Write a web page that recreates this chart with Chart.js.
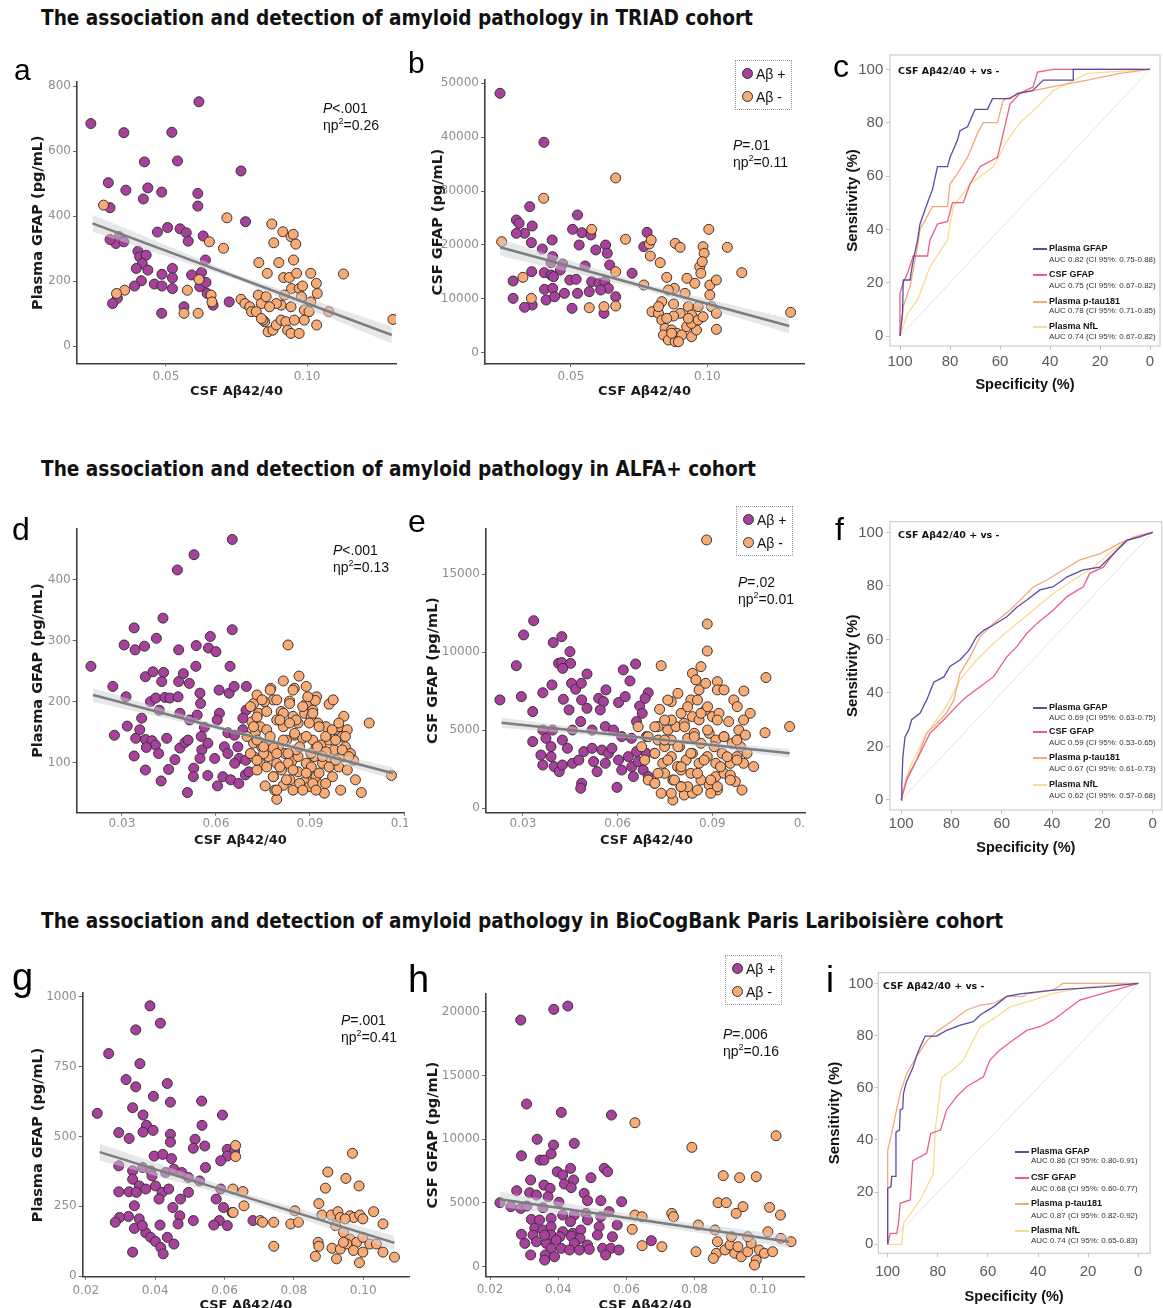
<!DOCTYPE html>
<html>
<head>
<meta charset="utf-8">
<script src="https://cdn.jsdelivr.net/npm/chart.js@4.4.1/dist/chart.umd.min.js"></script>
<style>
body { margin: 0; background: #fff; }
#page { position: relative; width: 1163px; height: 1308px; overflow: hidden; background: #fff; }
.abs { position: absolute; }
.title { font-family: 'DejaVu Sans Condensed', 'DejaVu Sans', sans-serif; font-stretch: condensed; font-weight: bold; font-size: 20.6px; line-height: 1; color: #111; white-space: nowrap; }
.letter { font-family: 'Liberation Sans', Arial, sans-serif; line-height: 1; color: #000; }
.stat { font-family: 'Liberation Sans', Arial, sans-serif; font-size: 14px; line-height: 17px; color: #111; white-space: nowrap; }
.stat sup { font-size: 9px; line-height: 0; vertical-align: 6px; }
.lgbox { border: 1px dotted #9a9a9a; box-sizing: border-box; }
.lgrow { position: absolute; font-family: 'Liberation Sans', Arial, sans-serif; font-size: 14px; line-height: 14px; color: #111; white-space: nowrap; }
.dot { position: absolute; width: 9px; height: 9px; border-radius: 50%; border: 1px solid #333; }
.rochead { font-family: 'DejaVu Sans', sans-serif; font-weight: bold; font-size: 9.5px; line-height: 1; color: #111; white-space: nowrap; }
.roclab { font-family: 'Liberation Sans', Arial, sans-serif; font-weight: bold; font-size: 9px; line-height: 1; color: #111; white-space: nowrap; }
.rocauc { font-family: 'Liberation Sans', Arial, sans-serif; font-size: 8px; line-height: 1; color: #333; white-space: nowrap; }
.wrap { position: absolute; overflow: hidden; }
</style>
</head>
<body>
<div id="page"></div>
<script>
// ---------- données ----------
const rowTitles = [
  'The association and detection of amyloid pathology in TRIAD cohort',
  'The association and detection of amyloid pathology in ALFA+ cohort',
  'The association and detection of amyloid pathology in BioCogBank Paris Lariboisière cohort'
];
const groupLabels = ['Aβ +', 'Aβ -'];
const rocLabels = ['Plasma GFAP', 'CSF GFAP', 'Plasma p-tau181', 'Plasma NfL'];
const rocHeader = 'CSF Aβ42/40 + vs -';
const xTitle = 'CSF Aβ42/40';

const triadAuc = ['AUC 0.82 (CI 95%: 0.75-0.88)', 'AUC 0.75 (CI 95%: 0.67-0.82)', 'AUC 0.78 (CI 95%: 0.71-0.85)', 'AUC 0.74 (CI 95%: 0.67-0.82)'];
const alfaAuc = ['AUC 0.69 (CI 95%: 0.63-0.75)', 'AUC 0.59 (CI 95%: 0.53-0.65)', 'AUC 0.67 (CI 95%: 0.61-0.73)', 'AUC 0.62 (CI 95%: 0.57-0.68)'];
const bioAuc = ['AUC 0.86 (CI 95%: 0.80-0.91)', 'AUC 0.68 (CI 95%: 0.60-0.77)', 'AUC 0.87 (CI 95%: 0.82-0.92)', 'AUC 0.74 (CI 95%: 0.65-0.83)'];

const triadPlasmaStat = ['<i>P</i>&lt;.001', 'ηp<sup>2</sup>=0.26'];
const triadCsfStat = ['<i>P</i>=.01', 'ηp<sup>2</sup>=0.11'];
const alfaPlasmaStat = ['<i>P</i>&lt;.001', 'ηp<sup>2</sup>=0.13'];
const alfaCsfStat = ['<i>P</i>=.02', 'ηp<sup>2</sup>=0.01'];
const bioPlasmaStat = ['<i>P</i>=.001', 'ηp<sup>2</sup>=0.41'];
const bioCsfStat = ['<i>P</i>=.006', 'ηp<sup>2</sup>=0.16'];

// TRIAD - plasma GFAP
const triadPlasmaPos = [[0.0234,685],[0.0351,657],[0.0617,752],[0.0521,658],[0.0541,570],[0.0424,567],[0.0296,503],[0.0358,480],[0.0436,487],[0.0420,453],[0.0485,474],[0.0613,470],[0.0613,431],[0.0766,539],[0.0302,426],[0.0782,383],[0.0470,351],[0.0506,365],[0.0550,361],[0.0572,349],[0.0579,323],[0.0632,339],[0.0640,265],[0.0401,292],[0.0407,275],[0.0430,280],[0.0416,254],[0.0436,234],[0.0395,239],[0.0413,201],[0.0389,185],[0.0459,191],[0.0486,221],[0.0523,239],[0.0523,210],[0.0486,185],[0.0523,177],[0.0591,219],[0.0626,227],[0.0620,183],[0.0642,196],[0.0646,162],[0.0564,121],[0.0667,126],[0.0724,136],[0.0485,101],[0.0328,147],[0.0311,131],[0.0334,337],[0.0323,316],[0.0351,321],[0.0302,328]];
const triadPlasmaNeg = [[0.0279,434],[0.0354,172],[0.0325,162],[0.0564,101],[0.0614,101],[0.0576,172],[0.0654,321],[0.0704,301],[0.0716,395],[0.0660,157],[0.0663,136],[0.0617,205],[0.0766,144],[0.0780,131],[0.0797,121],[0.0803,106],[0.0827,157],[0.0829,257],[0.0838,131],[0.0855,152],[0.0859,224],[0.0875,376],[0.0882,318],[0.0900,257],[0.0908,126],[0.0914,352],[0.0917,211],[0.0937,211],[0.0943,337],[0.0951,344],[0.0960,314],[0.0952,265],[0.0963,224],[0.0945,177],[0.0972,177],[0.0984,185],[0.0980,152],[0.0990,111],[0.1013,224],[0.1033,193],[0.1036,162],[0.1034,65],[0.1077,106],[0.1129,222],[0.1304,82],[0.0850,75],[0.0862,44],[0.0879,49],[0.0891,65],[0.0908,80],[0.0925,75],[0.0931,49],[0.0943,39],[0.0972,39],[0.0955,80],[0.0990,80],[0.1007,106],[0.1013,136],[0.0943,121],[0.0920,157],[0.0891,131],[0.0867,121],[0.0844,80],[0.0820,106],[0.0838,85]];
const triadPlasmaFit = [[0.024,378],[0.130,34]];
const triadPlasmaBandHi = [[0.024,404],[0.075,220],[0.130,60]];
const triadPlasmaBandLo = [[0.024,352],[0.075,205],[0.130,8]];

// TRIAD - CSF GFAP
const triadCsfPos = [[0.0240,48130],[0.0401,39040],[0.0349,27100],[0.0300,24620],[0.0310,24000],[0.0330,22150],[0.0358,23510],[0.0355,20420],[0.0300,22150],[0.0431,20910],[0.0395,19240],[0.0524,25550],[0.0506,22890],[0.0540,22270],[0.0573,21840],[0.0530,19980],[0.0591,19060],[0.0627,19980],[0.0633,18440],[0.0779,22330],[0.0767,19670],[0.0433,17820],[0.0427,16700],[0.0470,16460],[0.0552,16090],[0.0642,16270],[0.0356,15030],[0.0402,14850],[0.0427,14420],[0.0461,15340],[0.0496,13490],[0.0519,13610],[0.0576,13180],[0.0603,12870],[0.0624,13180],[0.0637,11940],[0.0288,13300],[0.0436,14110],[0.0403,11760],[0.0433,11940],[0.0476,11010],[0.0524,11010],[0.0567,11320],[0.0609,11630],[0.0664,10390],[0.0288,10080],[0.0409,9775],[0.0440,10390],[0.0358,8850],[0.0330,8415],[0.0504,8230],[0.0621,7300],[0.0724,14730]];
const triadCsfNeg = [[0.0400,28650],[0.0664,32420],[0.0246,20600],[0.0576,22890],[0.0700,21040],[0.0787,20170],[0.0794,20910],[0.0882,20290],[0.0900,19550],[0.0791,17940],[0.0984,19670],[0.0988,18440],[0.1005,22890],[0.1073,19550],[0.1126,14850],[0.1305,7490],[0.0827,16700],[0.0851,13980],[0.0879,11940],[0.0925,13800],[0.0954,12870],[0.0972,15960],[0.0981,16890],[0.0976,14730],[0.1009,12560],[0.1033,13490],[0.1009,10700],[0.0857,11630],[0.0767,12560],[0.0664,15030],[0.0324,13980],[0.0355,10080],[0.0567,8350],[0.0621,8540],[0.0664,8660],[0.0797,7610],[0.0833,9470],[0.0876,9030],[0.0918,11010],[0.0930,8540],[0.0942,6990],[0.0966,8540],[0.1015,8540],[0.1033,7300],[0.1033,4330],[0.0821,7300],[0.0833,6060],[0.0845,4520],[0.0869,4210],[0.0888,3590],[0.0839,3280],[0.0857,2350],[0.0882,2040],[0.0906,3280],[0.0924,4830],[0.0942,2970],[0.0960,4210],[0.0942,5440],[0.0966,6060],[0.0984,6680],[0.0930,6370],[0.0900,7300],[0.0876,6800],[0.0851,6370],[0.0821,8540],[0.0894,2040],[0.0869,3590]];
const triadCsfFit = [[0.024,19560],[0.130,4950]];
const triadCsfBandHi = [[0.024,21100],[0.077,12800],[0.130,6300]];
const triadCsfBandLo = [[0.024,18000],[0.077,11700],[0.130,3600]];

// ALFA+ - plasma GFAP
const alfaPlasmaPos = [[0.0652,466],[0.0530,441],[0.0477,416],[0.0431,337],[0.0339,321],[0.0307,293],[0.0342,285],[0.0372,291],[0.0410,304],[0.0481,285],[0.0537,292],[0.0582,307],[0.0576,288],[0.0600,282],[0.0652,318],[0.0201,258],[0.0271,225],[0.0313,208],[0.0276,145],[0.0317,160],[0.0339,111],[0.0375,241],[0.0399,249],[0.0433,248],[0.0427,233],[0.0481,233],[0.0496,246],[0.0515,230],[0.0536,258],[0.0549,214],[0.0645,258],[0.0642,214],[0.0658,225],[0.0697,225],[0.0610,219],[0.0391,200],[0.0408,206],[0.0437,207],[0.0453,206],[0.0479,208],[0.0551,197],[0.0611,181],[0.0696,186],[0.0363,173],[0.0357,154],[0.0419,186],[0.0485,181],[0.0516,170],[0.0540,178],[0.0563,158],[0.0604,170],[0.0638,149],[0.0659,145],[0.0686,173],[0.0686,154],[0.0344,140],[0.0375,138],[0.0396,136],[0.0407,129],[0.0417,115],[0.0443,140],[0.0485,124],[0.0469,105],[0.0501,133],[0.0511,137],[0.0553,143],[0.0555,121],[0.0549,107],[0.0574,132],[0.0596,107],[0.0627,126],[0.0638,115],[0.0670,126],[0.0674,107],[0.0660,99],[0.0695,104],[0.0378,125],[0.0375,88],[0.0425,70],[0.0449,89],[0.0529,91],[0.0528,77],[0.0574,79],[0.0605,62],[0.0622,77],[0.0647,72],[0.0673,66],[0.0694,80],[0.0705,85],[0.0509,51]];
const alfaPlasmaNeg = [[0.0830,293],[0.0865,242],[0.0815,234],[0.0850,222],[0.0720,197],[0.0775,222],[0.0783,203],[0.0755,200],[0.0808,184],[0.0835,201],[0.0888,197],[0.0921,208],[0.0917,202],[0.0961,196],[0.0974,203],[0.1089,165],[0.1160,79],[0.1064,51],[0.0794,40],[0.0736,181],[0.0715,167],[0.0741,159],[0.0725,148],[0.0762,154],[0.0794,170],[0.0815,159],[0.0846,176],[0.0862,165],[0.0883,181],[0.0904,176],[0.0925,165],[0.0951,159],[0.0982,154],[0.1003,143],[0.0992,159],[0.1013,126],[0.1029,115],[0.1039,104],[0.1045,72],[0.0720,132],[0.0746,126],[0.0773,134],[0.0799,126],[0.0825,137],[0.0851,145],[0.0877,140],[0.0909,137],[0.0935,129],[0.0961,137],[0.0977,121],[0.0720,110],[0.0741,99],[0.0767,110],[0.0794,99],[0.0820,115],[0.0841,102],[0.0862,110],[0.0888,99],[0.0914,110],[0.0940,99],[0.0966,107],[0.0992,93],[0.0731,88],[0.0757,62],[0.0783,77],[0.0809,88],[0.0836,72],[0.0862,85],[0.0883,69],[0.0904,83],[0.0925,66],[0.0946,50],[0.0972,77],[0.0998,55],[0.1019,88],[0.0788,55],[0.0815,63],[0.0846,55],[0.0899,61],[0.0919,77],[0.0752,115],[0.0783,124],[0.0856,121],[0.0919,124],[0.0951,118],[0.1003,110],[0.0762,184],[0.0731,211],[0.0888,225],[0.0909,186],[0.1008,176],[0.1019,154],[0.0830,99],[0.0904,93],
  [0.0710,192],[0.0731,175],[0.0747,203],[0.0773,219],[0.0794,203],[0.0815,181],[0.0835,197],[0.0846,219],[0.0877,192],[0.0893,208],[0.0909,181],[0.0929,159],[0.0950,143],[0.0971,154],[0.0982,137],[0.1003,121],[0.0731,137],[0.0752,126],[0.0773,143],[0.0794,115],[0.0815,137],[0.0830,115],[0.0851,148],[0.0867,126],[0.0888,143],[0.0903,115],[0.0924,126],[0.0940,110],[0.0961,93],[0.0982,104],[0.0762,93],[0.0783,77],[0.0804,93],[0.0825,72],[0.0846,88],[0.0867,66],[0.0888,83],[0.0909,66],[0.0929,83],[0.0950,66],[0.0794,55],[0.0877,55],[0.0919,55],[0.0804,170],[0.0856,170],[0.0835,165],[0.0898,165],[0.0720,159],[0.0699,143],[0.0710,115],[0.0731,104],[0.0992,165],[0.1013,143],[0.1024,110]];
const alfaPlasmaFit = [[0.0208,211],[0.1165,82.6]];
const alfaPlasmaBandHi = [[0.0208,222],[0.0687,150],[0.1165,92]];
const alfaPlasmaBandLo = [[0.0208,200],[0.0687,144],[0.1165,73]];

// ALFA+ - CSF GFAP
const alfaCsfPos = [[0.0227,6940],[0.0279,9130],[0.0302,11100],[0.0334,12010],[0.0295,7150],[0.0331,6190],[0.0363,7400],[0.0392,7900],[0.0396,10610],[0.0423,10990],[0.0413,9280],[0.0423,9330],[0.0449,10030],[0.0451,9280],[0.0426,8960],[0.0428,6980],[0.0446,6300],[0.0454,8000],[0.0467,7620],[0.0485,8000],[0.0503,8600],[0.0486,6940],[0.0503,6400],[0.0540,7040],[0.0563,7580],[0.0555,6830],[0.0545,6300],[0.0603,6770],[0.0618,8860],[0.0639,8150],[0.0657,9240],[0.0624,7150],[0.0670,6550],[0.0678,6080],[0.0697,7400],[0.0687,7040],[0.0660,5550],[0.0331,4270],[0.0363,5010],[0.0394,5010],[0.0425,4370],[0.0457,5010],[0.0483,5550],[0.0519,5010],[0.0561,5230],[0.0587,5010],[0.0613,4590],[0.0644,4480],[0.0691,4590],[0.0357,3410],[0.0363,2770],[0.0389,3310],[0.0399,2670],[0.0415,2350],[0.0425,2770],[0.0441,3840],[0.0457,2880],[0.0477,3090],[0.0493,3630],[0.0519,3840],[0.0524,2990],[0.0535,2350],[0.0550,3730],[0.0561,2880],[0.0571,3520],[0.0582,3840],[0.0603,3090],[0.0613,2450],[0.0634,3310],[0.0645,2670],[0.0660,3630],[0.0665,2990],[0.0681,2450],[0.0691,3520],[0.0697,2030],[0.0650,2030],[0.0598,1340],[0.0486,1600],[0.0483,1280],[0.0389,3950],[0.0373,4480]];
const alfaCsfNeg = [[0.0882,17180],[0.0884,11800],[0.0884,10070],[0.0738,9130],[0.0864,9070],[0.1070,8370],[0.1000,7510],[0.1145,5230],[0.1067,4840],[0.1031,2670],[0.0775,530],[0.0733,6340],[0.0770,6830],[0.0801,6080],[0.0832,6940],[0.0837,8640],[0.0848,8220],[0.0858,7580],[0.0879,8000],[0.0916,8110],[0.0916,7580],[0.0937,7580],[0.0968,6940],[0.0979,6510],[0.1020,6080],[0.0728,5230],[0.0759,5010],[0.0785,5230],[0.0811,5440],[0.0837,5870],[0.0858,5660],[0.0879,6300],[0.0900,5870],[0.0921,6080],[0.0952,5550],[0.0984,5010],[0.1005,4690],[0.0728,4370],[0.0749,3950],[0.0770,4370],[0.0796,3950],[0.0822,4480],[0.0843,4800],[0.0864,4160],[0.0890,4800],[0.0911,4370],[0.0937,4590],[0.0963,4160],[0.0989,3950],[0.1010,3520],[0.0717,3520],[0.0743,2880],[0.0770,3310],[0.0790,2670],[0.0817,3090],[0.0837,3520],[0.0858,2880],[0.0884,3310],[0.0911,2880],[0.0931,3520],[0.0957,2880],[0.0978,3310],[0.0999,2880],[0.0717,1600],[0.0749,2240],[0.0775,1810],[0.0801,1390],[0.0811,850],[0.0837,960],[0.0864,1810],[0.0890,1490],[0.0911,2030],[0.0937,2240],[0.0973,1710],[0.0994,1170],[0.0832,2240],[0.0801,2450],[0.0916,1170],[0.0895,960],[0.0957,2130],
  [0.0665,5220],[0.0676,3940],[0.0686,3090],[0.0697,4580],[0.0718,3520],[0.0728,2240],[0.0749,4370],[0.0759,3090],[0.0770,5650],[0.0780,1810],[0.0791,3940],[0.0801,2660],[0.0812,5220],[0.0822,1380],[0.0832,3520],[0.0843,4580],[0.0853,2240],[0.0864,6080],[0.0874,3090],[0.0885,5010],[0.0895,1810],[0.0906,3940],[0.0916,5650],[0.0926,2660],[0.0937,4580],[0.0947,3300],[0.0957,1810],[0.0759,6930],[0.0791,7360],[0.0822,6500],[0.0853,6930],[0.0885,6500],[0.0718,5220],[0.0749,5650],[0.0697,1810],[0.0738,960],[0.0770,960],[0.0801,1380],[0.0718,1600],[0.0916,1380],[0.0853,1170],[0.0978,3090],[0.0978,4370],[0.0999,5650]];
const alfaCsfFit = [[0.0232,5480],[0.1145,3520]];
const alfaCsfBandHi = [[0.0232,5800],[0.069,4620],[0.1145,3800]];
const alfaCsfBandLo = [[0.0232,5160],[0.069,4380],[0.1145,3240]];

// BioCogBank - plasma GFAP
const bioPlasmaPos = [[0.0385,968],[0.0415,906],[0.0344,882],[0.0266,797],[0.0356,761],[0.0316,704],[0.0344,678],[0.0435,690],[0.0395,644],[0.0335,603],[0.0444,623],[0.0534,627],[0.0594,577],[0.0365,577],[0.0233,583],[0.0375,540],[0.0365,516],[0.0394,522],[0.0295,514],[0.0325,493],[0.0444,508],[0.0444,480],[0.0535,540],[0.0515,490],[0.0543,466],[0.0510,458],[0.0608,454],[0.0629,448],[0.0608,430],[0.0589,413],[0.0545,389],[0.0397,430],[0.0422,436],[0.0447,421],[0.0295,395],[0.0335,377],[0.0364,389],[0.0387,377],[0.0391,359],[0.0430,371],[0.0454,383],[0.0477,371],[0.0496,353],[0.0528,341],[0.0589,312],[0.0335,347],[0.0354,323],[0.0373,312],[0.0401,323],[0.0420,300],[0.0439,312],[0.0473,276],[0.0496,300],[0.0295,302],[0.0325,302],[0.0346,300],[0.0340,252],[0.0411,276],[0.0451,246],[0.0576,276],[0.0597,246],[0.0622,228],[0.0585,199],[0.0608,181],[0.0569,183],[0.0510,199],[0.0471,216],[0.0466,187],[0.0354,205],[0.0323,214],[0.0297,210],[0.0285,193],[0.0340,171],[0.0373,155],[0.0387,139],[0.0401,124],[0.0416,103],[0.0423,80],[0.0435,139],[0.0454,115],[0.0335,86],[0.0414,183],[0.0363,181],[0.0682,199]];
const bioPlasmaNeg = [[0.0632,468],[0.0632,428],[0.0653,303],[0.0624,312],[0.0656,252],[0.0625,228],[0.0703,199],[0.0710,193],[0.0742,193],[0.0742,107],[0.0791,187],[0.0813,193],[0.0803,234],[0.0872,260],[0.0898,373],[0.0950,350],[0.0969,440],[0.0988,323],[0.0891,315],[0.0881,219],[0.0908,219],[0.0927,231],[0.0934,210],[0.0962,216],[0.0973,210],[0.0990,219],[0.0999,205],[0.1030,231],[0.1057,187],[0.0948,205],[0.0920,181],[0.0943,157],[0.0962,133],[0.0981,121],[0.0999,139],[0.1019,115],[0.1038,115],[0.1057,86],[0.1090,68],[0.0870,121],[0.0872,107],[0.0862,71],[0.0910,100],[0.0923,62],[0.0934,97],[0.0953,115],[0.0972,92],[0.0989,48],[0.0999,86],[0.0943,121]];
const bioPlasmaFit = [[0.024,444],[0.109,119]];
const bioPlasmaBandHi = [[0.024,474],[0.0665,294],[0.109,144]];
const bioPlasmaBandLo = [[0.024,414],[0.0665,269],[0.109,94]];

// BioCogBank - CSF GFAP
const bioCsfPos = [[0.0290,19340],[0.0387,20180],[0.0428,20440],[0.0307,12760],[0.0409,12100],[0.0556,11890],[0.0338,9990],[0.0386,9540],[0.0447,9670],[0.0292,8700],[0.0347,8360],[0.0358,8360],[0.0379,8840],[0.0397,7450],[0.0413,7190],[0.0436,7710],[0.0445,6800],[0.0418,6480],[0.0438,6200],[0.0535,7710],[0.0545,7450],[0.0496,6980],[0.0319,6800],[0.0358,6400],[0.0376,6140],[0.0278,5960],[0.0316,5800],[0.0336,5620],[0.0370,5490],[0.0476,5750],[0.0486,5180],[0.0525,5180],[0.0586,5100],[0.0229,5020],[0.0261,4710],[0.0290,4570],[0.0308,4760],[0.0355,4630],[0.0402,5050],[0.0413,4050],[0.0447,4050],[0.0481,4180],[0.0525,3920],[0.0549,4310],[0.0321,3710],[0.0345,3660],[0.0379,3790],[0.0436,3530],[0.0486,3660],[0.0520,3140],[0.0573,3270],[0.0331,3010],[0.0355,2880],[0.0379,3140],[0.0413,2740],[0.0442,2610],[0.0466,2880],[0.0292,2540],[0.0326,2480],[0.0379,2480],[0.0405,2350],[0.0438,2400],[0.0464,2220],[0.0515,2480],[0.0559,2350],[0.0302,1830],[0.0336,1960],[0.0365,1830],[0.0394,2090],[0.0447,1830],[0.0486,1700],[0.0379,1440],[0.0409,1440],[0.0433,1310],[0.0462,1310],[0.0491,1360],[0.0530,1440],[0.0554,1440],[0.0578,1310],[0.0319,920],[0.0362,920],[0.0389,780],[0.0360,520],[0.0539,920],[0.0673,2040],[0.0360,2480]];
const bioCsfNeg = [[0.0625,11290],[0.0792,9360],[0.1039,10270],[0.0884,7140],[0.0932,6980],[0.0981,7060],[0.0869,5020],[0.0893,5020],[0.0942,4710],[0.0922,4180],[0.1020,4650],[0.1052,4050],[0.0733,4180],[0.0738,3920],[0.0625,4050],[0.0646,3920],[0.0617,2930],[0.0646,1650],[0.0704,1570],[0.0804,1180],[0.0867,1960],[0.0864,1050],[0.0855,650],[0.0889,1310],[0.0904,1700],[0.0918,1050],[0.0927,1570],[0.0937,780],[0.0956,1180],[0.0966,1830],[0.0981,520],[0.0990,1310],[0.1005,1050],[0.1029,1180],[0.1083,1960],[0.0908,2350],[0.0956,2350],[0.0860,2880],[0.0811,3270],[0.1015,2740],[0.1053,2220],[0.0976,130]];
const bioCsfFit = [[0.0229,5290],[0.1077,1960]];
const bioCsfBandHi = [[0.0229,5900],[0.0653,3900],[0.1077,2450]];
const bioCsfBandLo = [[0.0229,4680],[0.0653,3350],[0.1077,1470]];

// courbes ROC : [spécificité, sensibilité]
const triadRocGfap = [[100,0],[99,8.5],[98.7,21],[96,21],[95,27],[93,36],[92,42],[89,50],[87,55],[85,63.5],[81,63.5],[80,67],[77,73.5],[76,77],[73,78.5],[70,85],[65,85],[63,89],[56,89],[53,91],[47,92],[42.7,96],[30.7,96],[30.7,100],[0,100]];
const triadRocCsf = [[100,0],[100,16],[98.7,20],[97,23.5],[94.7,30],[89,30],[88,36],[85,42],[81,43],[79,50],[74.7,50],[72,57],[68,63.5],[61,67],[58.7,76],[56,87],[52,91],[46.7,93.5],[45,99],[38.7,100],[0,100]];
const triadRocPtau = [[100,0],[98.7,11],[96,18.5],[93,33.5],[92,40],[87,48.5],[81,48.5],[80,57],[77,61],[73,67],[69,76],[66.7,80],[61,80],[58.7,88.5],[52,91],[38.7,93.5],[25,96],[12,98.5],[0,100]];
const triadRocNfl = [[100,0],[97,8.5],[93,13.5],[88,26],[81,36],[78.7,48.5],[72,57],[62.7,63.5],[57,73.5],[52,80],[45,86],[38.7,92],[25,98.5],[0,100]];

const alfaRocGfap = [[100,0],[99.7,6],[99.3,16],[98.4,23.7],[97,26],[95.8,30],[92.5,32.4],[89.8,37.4],[87,44],[83,46],[80.5,50],[76.6,52.3],[73,56],[70,61],[67,63.5],[63.3,65.4],[58,68.5],[54,72],[50,74.7],[44.8,78.5],[39.5,79.7],[34,83.4],[27.6,86],[21,87],[15.6,92],[10.3,97],[5,98.4],[0,100]];
const alfaRocCsf = [[100,0],[97.7,7.5],[92.5,17.4],[88.5,25],[83,30],[78,35],[74,38.6],[68.6,42.3],[63.3,46],[58,53.5],[54,57.3],[50,62.3],[46,66],[39.5,71],[34,76],[27.6,79.7],[25,84.7],[19.6,87],[15.6,92],[10.3,97],[5,98.4],[0,100]];
const alfaRocPtau = [[100,0],[97.7,8.7],[93.8,15],[89.8,25],[85.8,28.6],[82,32.4],[79,37.4],[76.6,47.3],[72.6,53.5],[68.6,61],[63.3,66],[56.7,71],[52.7,74.7],[47.4,79.7],[42,82.2],[36.8,85.3],[28.9,89.7],[21,92],[13,96],[5,99],[0,100]];
const alfaRocNfl = [[100,0],[96.4,12.5],[89.8,25],[82,35],[76.6,44.8],[70,52.3],[63.3,58.5],[55.4,64.8],[47.4,71],[39.5,77.2],[31.5,82.2],[23.6,87],[15.6,93.4],[7.7,98.4],[0,100]];

const bioRocGfap = [[100,0],[100,21.5],[98.7,22],[98.4,26],[97,26],[96.7,43],[95.3,43.8],[95,51.5],[94,52],[93.7,57.8],[92.7,61.7],[91,65.5],[89.8,68],[88.4,72.5],[87,75.7],[85,79.8],[80.5,79.8],[76.5,82],[71,84],[65.8,85.3],[63,88],[57.8,91],[52.5,95],[47.2,96],[34,97.4],[14,98.7],[0,100]];
const bioRocCsf = [[100,0],[99,4.2],[96.4,4.2],[95.7,8],[95,15.7],[91,17],[90,32],[84.4,35],[82.8,42.5],[78.9,43.8],[76.5,51.5],[72.5,56.6],[68.5,60.4],[61.8,64.2],[59.2,70.6],[55.2,74.5],[49.9,78.3],[44.5,82],[39.2,83.4],[33.9,86],[28.6,89.8],[23.3,93.6],[14,96.2],[7.3,98],[0,100]];
const bioRocPtau = [[100,0],[100,36],[98.4,42.5],[97,49],[95,58],[92.4,65.5],[88.4,72],[84.4,78],[80.5,81.5],[73.8,86],[68.5,89.8],[63,91.7],[57.8,92.3],[52.5,95],[45.9,95],[44.5,96],[34,97.4],[30,100],[0,100]];
const bioRocNfl = [[100,0],[94.4,0],[93.7,8],[87,17],[81.8,27],[81,44],[78.5,64],[73.8,67],[69.8,70.6],[67.2,75.7],[63,83.4],[56.5,87.2],[51.2,91],[42,93.6],[34,96.2],[20.6,98.7],[0,100]];

const rocDiagonal = [[100,0],[0,100]];
const rocTicks = [0, 20, 40, 60, 80, 100];

// ---------- styles ----------
const POS_COLOR = '#a8409e';
const NEG_COLOR = '#f8ab74';
const DOT_EDGE = '#3a3232';
const ROC_COLORS = ['#5a4ca6', '#ee5c82', '#f6a77c', '#f8dc8e'];

const page = document.getElementById('page');

function addDiv(cls, left, top, html, extra) {
    const d = document.createElement('div');
    d.className = 'abs ' + cls;
    d.style.left = left + 'px';
    d.style.top = top + 'px';
    d.innerHTML = html;
    if (extra) Object.assign(d.style, extra);
    page.appendChild(d);
    return d;
}

function addCanvas(g) {
    const wrap = document.createElement('div');
    wrap.className = 'wrap';
    wrap.style.left = g.left + 'px';
    wrap.style.top = g.top + 'px';
    wrap.style.width = (g.clip || g.w) + 'px';
    wrap.style.height = g.h + 'px';
    const canvas = document.createElement('canvas');
    canvas.width = g.w;
    canvas.height = g.h;
    canvas.style.width = g.w + 'px';
    canvas.style.height = g.h + 'px';
    wrap.appendChild(canvas);
    page.appendChild(wrap);
    return canvas.getContext('2d');
}

const toPts = arr => arr.map(p => ({ x: p[0], y: p[1] }));
const fixTicks = values => s => { s.ticks = values.map(v => ({ value: v })); };
const fixSize = (prop, size) => s => {
    s[prop] = size;
    s.paddingLeft = 0; s.paddingRight = 0; s.paddingTop = 0; s.paddingBottom = 0;
};

function scatterPanel(g, d) {
    const ctx = addCanvas(g);
    const tickFont = { family: "'DejaVu Sans', sans-serif", size: 12 };
    new Chart(ctx, {
        type: 'scatter',
        data: {
            datasets: [
                { type: 'line', data: toPts(d.fit), borderColor: '#7d7d7d', borderWidth: 2.5, pointRadius: 0 },
                { type: 'line', data: toPts(d.bandHi), borderColor: 'transparent', borderWidth: 0, pointRadius: 0, fill: '+1', backgroundColor: 'rgba(205,208,212,0.5)' },
                { type: 'line', data: toPts(d.bandLo), borderColor: 'transparent', borderWidth: 0, pointRadius: 0, fill: false },
                { data: toPts(d.neg), backgroundColor: NEG_COLOR, borderColor: DOT_EDGE, borderWidth: 1, pointRadius: 5 },
                { data: toPts(d.pos), backgroundColor: POS_COLOR, borderColor: DOT_EDGE, borderWidth: 1, pointRadius: 5 },
            ],
        },
        options: {
            responsive: false,
            animation: false,
            devicePixelRatio: 1,
            layout: { padding: { left: 0, top: g.padTop, right: g.padRight, bottom: 0 } },
            plugins: { legend: { display: false }, tooltip: { enabled: false } },
            scales: {
                x: {
                    type: 'linear', min: g.xMin, max: g.xMax,
                    afterBuildTicks: fixTicks(d.xTicks),
                    afterFit: fixSize('height', g.xH),
                    ticks: { color: '#8e8e8e', font: tickFont, padding: g.xTickPad, callback: v => v.toFixed(2), maxRotation: 0 },
                    grid: { drawOnChartArea: false, drawTicks: true, tickLength: 3, color: '#666' },
                    border: { color: '#3f3f3f', width: 1.6 },
                    title: { display: true, text: xTitle, color: '#1a1a1a', font: { family: "'DejaVu Sans', sans-serif", size: 13, weight: 'bold' }, padding: { top: 0, bottom: g.xTitlePad } },
                },
                y: {
                    type: 'linear', min: g.yMin, max: g.yMax,
                    afterBuildTicks: fixTicks(d.yTicks),
                    afterFit: fixSize('width', g.yW),
                    ticks: { color: '#8e8e8e', font: tickFont, padding: 2, callback: v => String(v) },
                    grid: { drawOnChartArea: false, drawTicks: true, tickLength: 4, color: '#666' },
                    border: { color: '#3f3f3f', width: 1.6 },
                    title: { display: true, text: d.yTitle, color: '#1a1a1a', font: { family: "'DejaVu Sans', sans-serif", size: 14.5, weight: 'bold' }, padding: { top: g.yTitlePad, bottom: 0 } },
                },
            },
        },
    });
}

const rocBox = {
    id: 'rocBox',
    beforeDatasetsDraw(chart) {
        const { ctx, chartArea: a } = chart;
        ctx.save();
        ctx.strokeStyle = '#cdcdcd';
        ctx.lineWidth = 1.2;
        ctx.strokeRect(a.left, a.top, a.width, a.height);
        ctx.restore();
    },
};

function rocPanel(g, curves) {
    const ctx = addCanvas(g);
    const tickFont = { family: "'Liberation Sans', Arial, sans-serif", size: 15 };
    const titleFont = { family: "'Liberation Sans', Arial, sans-serif", size: 14.5, weight: 'bold' };
    const datasets = [];
    curves.forEach((c, i) => datasets.push({ data: toPts(c), borderColor: ROC_COLORS[i], borderWidth: 1.3, pointRadius: 0, tension: 0 }));
    datasets.push({ data: toPts(rocDiagonal), borderColor: '#e2e2e2', borderWidth: 1, pointRadius: 0 });
    new Chart(ctx, {
        type: 'line',
        data: { datasets },
        plugins: [rocBox],
        options: {
            responsive: false,
            animation: false,
            devicePixelRatio: 1,
            layout: { padding: { left: 0, top: g.padTop, right: g.padRight, bottom: 0 } },
            plugins: { legend: { display: false }, tooltip: { enabled: false } },
            scales: {
                x: {
                    type: 'linear', reverse: true, min: g.xMin, max: g.xMax,
                    afterBuildTicks: fixTicks(rocTicks),
                    afterFit: fixSize('height', g.xH),
                    ticks: { color: '#5a5a5a', font: tickFont, padding: g.xTickPad, maxRotation: 0 },
                    grid: { drawOnChartArea: false, drawTicks: true, tickLength: 4, color: '#c4c4c4' },
                    border: { display: false },
                    title: { display: true, text: 'Specificity (%)', color: '#111', font: titleFont, padding: { top: 0, bottom: 2.3 } },
                },
                y: {
                    type: 'linear', min: g.yMin, max: g.yMax,
                    afterBuildTicks: fixTicks(rocTicks),
                    afterFit: fixSize('width', g.yW),
                    ticks: { color: '#5a5a5a', font: tickFont, padding: g.yTickPad },
                    grid: { drawOnChartArea: false, drawTicks: true, tickLength: 4, color: '#c4c4c4' },
                    border: { display: false },
                    title: { display: true, text: 'Sensitivity (%)', color: '#111', font: { ...titleFont, size: 15 }, padding: { top: g.yTitlePad, bottom: 0 } },
                },
            },
        },
    });
}

// ---------- textes hors graphes ----------
function statBox(left, centerY, lines) {
    addDiv('stat', left, centerY - 8.5, lines.join('<br>'));
}

function groupLegend(left, top) {
    const box = addDiv('lgbox', left, top, '', { width: '57px', height: '50px' });
    [POS_COLOR, NEG_COLOR].forEach((col, i) => {
        const dot = document.createElement('span');
        dot.className = 'dot';
        dot.style.background = col;
        dot.style.left = '6px';
        dot.style.top = (7 + i * 23) + 'px';
        box.appendChild(dot);
        const t = document.createElement('span');
        t.className = 'lgrow';
        t.style.left = '20px';
        t.style.top = (6 + i * 23) + 'px';
        t.textContent = groupLabels[i];
        box.appendChild(t);
    });
}

function rocLegend(lineX, textX, labelYs, aucYs, aucTexts) {
    rocLabels.forEach((lab, i) => {
        addDiv('', lineX, labelYs[i] - 1, '', { width: '14px', height: '2px', background: ROC_COLORS[i] });
        addDiv('roclab', textX, labelYs[i] - 5, lab);
        addDiv('rocauc', textX, aucYs[i] - 4.5, aucTexts[i]);
    });
}

// titres de rangée
addDiv('title', 41, 8, rowTitles[0]);
addDiv('title', 41, 459, rowTitles[1]);
addDiv('title', 41, 911, rowTitles[2]);

// ---------- rangée 1 : TRIAD ----------
scatterPanel(
    { left: 0, top: 72, w: 402, h: 329, yW: 77, xH: 37.7, padTop: 10, padRight: 2, xMin: 0.0185, xMax: 0.1315, yMin: -53, yMax: 813, xTickPad: 3.5, xTitlePad: 1.2, yTitlePad: 29.3 },
    { pos: triadPlasmaPos, neg: triadPlasmaNeg, fit: triadPlasmaFit, bandHi: triadPlasmaBandHi, bandLo: triadPlasmaBandLo, xTicks: [0.05, 0.10], yTicks: [0, 200, 400, 600, 800], yTitle: 'Plasma GFAP (pg/mL)' }
);
scatterPanel(
    { left: 405, top: 70, w: 405, h: 330, yW: 80, xH: 36, padTop: 10, padRight: 3.3, xMin: 0.0185, xMax: 0.1354, yMin: -2100, yMax: 50600, xTickPad: 3, xTitlePad: 0.5, yTitlePad: 24.6 },
    { pos: triadCsfPos, neg: triadCsfNeg, fit: triadCsfFit, bandHi: triadCsfBandHi, bandLo: triadCsfBandLo, xTicks: [0.05, 0.10], yTicks: [0, 10000, 20000, 30000, 40000, 50000], yTitle: 'CSF GFAP (pg/mL)' }
);
rocPanel(
    { left: 835, top: 50, w: 328, h: 346, yW: 55, xH: 50, padTop: 5, padRight: 3, xMin: -4, xMax: 104, yMin: -3.75, yMax: 105.4, xTickPad: 3, yTickPad: 2.7, yTitlePad: 9 },
    [triadRocGfap, triadRocCsf, triadRocPtau, triadRocNfl]
);
statBox(323, 108, triadPlasmaStat);
statBox(733, 145, triadCsfStat);
groupLegend(735, 60);
addDiv('rochead', 898, 66, rocHeader);
rocLegend(1033, 1049, [249.3, 275.3, 301.7, 326.7], [260, 286.7, 311.7, 337.7], triadAuc);

// ---------- rangée 2 : ALFA+ ----------
scatterPanel(
    { left: 0, top: 518, w: 410, clip: 408, h: 331, yW: 76.7, xH: 36.3, padTop: 10.3, padRight: 0.5, xMin: 0.01557, xMax: 0.12, yMin: 18, yMax: 484.3, xTickPad: 1, xTitlePad: 0.5, yTitlePad: 29.6 },
    { pos: alfaPlasmaPos, neg: alfaPlasmaNeg, fit: alfaPlasmaFit, bandHi: alfaPlasmaBandHi, bandLo: alfaPlasmaBandLo, xTicks: [0.03, 0.06, 0.09, 0.12], yTicks: [100, 200, 300, 400], yTitle: 'Plasma GFAP (pg/mL)' }
);
scatterPanel(
    { left: 410, top: 518, w: 403, clip: 396, h: 331, yW: 76, xH: 36.3, padTop: 10.3, padRight: 2.2, xMin: 0.0183, xMax: 0.12, yMin: -282, yMax: 17926, xTickPad: 1, xTitlePad: 0.5, yTitlePad: 14.3 },
    { pos: alfaCsfPos, neg: alfaCsfNeg, fit: alfaCsfFit, bandHi: alfaCsfBandHi, bandLo: alfaCsfBandLo, xTicks: [0.03, 0.06, 0.09, 0.12], yTicks: [0, 5000, 10000, 15000], yTitle: 'CSF GFAP (pg/mL)' }
);
rocPanel(
    { left: 835, top: 515, w: 328, h: 344, yW: 55, xH: 49, padTop: 6.7, padRight: 1.3, xMin: -3.58, xMax: 104.4, yMin: -3.74, yMax: 104, xTickPad: 0.5, yTickPad: 2.7, yTitlePad: 9 },
    [alfaRocGfap, alfaRocCsf, alfaRocPtau, alfaRocNfl]
);
statBox(333, 550, alfaPlasmaStat);
statBox(738, 582, alfaCsfStat);
groupLegend(736, 506);
addDiv('rochead', 898, 530, rocHeader);
rocLegend(1033, 1049, [708.3, 731.7, 758.3, 785], [718.3, 743.3, 769.3, 796], alfaAuc);

// ---------- rangée 3 : BioCogBank ----------
scatterPanel(
    { left: 0, top: 983, w: 415, h: 331, yW: 82.7, xH: 37.3, padTop: 10, padRight: 2, xMin: 0.0191, xMax: 0.1132, yMin: -2, yMax: 1014, xTickPad: 4, xTitlePad: 1, yTitlePad: 29.6 },
    { pos: bioPlasmaPos, neg: bioPlasmaNeg, fit: bioPlasmaFit, bandHi: bioPlasmaBandHi, bandLo: bioPlasmaBandLo, xTicks: [0.02, 0.04, 0.06, 0.08, 0.10], yTicks: [0, 250, 500, 750, 1000], yTitle: 'Plasma GFAP (pg/mL)' }
);
scatterPanel(
    { left: 415, top: 983, w: 395, h: 331, yW: 71, xH: 37.3, padTop: 10.3, padRight: 3.3, xMin: 0.0188, xMax: 0.1121, yMin: -784, yMax: 21440, xTickPad: 3, xTitlePad: 1, yTitlePad: 9.3 },
    { pos: bioCsfPos, neg: bioCsfNeg, fit: bioCsfFit, bandHi: bioCsfBandHi, bandLo: bioCsfBandLo, xTicks: [0.02, 0.04, 0.06, 0.08, 0.10], yTicks: [0, 5000, 10000, 15000, 20000], yTitle: 'CSF GFAP (pg/mL)' }
);
rocPanel(
    { left: 820, top: 965, w: 343, h: 343, yW: 58.3, xH: 54.7, padTop: 7.7, padRight: 13, xMin: -4.7, xMax: 103.75, yMin: -3.45, yMax: 104.1, xTickPad: 5.4, yTickPad: 1, yTitlePad: 6 },
    [bioRocGfap, bioRocCsf, bioRocPtau, bioRocNfl]
);
statBox(341, 1020, bioPlasmaStat);
statBox(723, 1034, bioCsfStat);
groupLegend(725, 955);
addDiv('rochead', 883, 981, rocHeader);
rocLegend(1015, 1031, [1151.7, 1177.7, 1204.3, 1230.7], [1161.7, 1189.3, 1216, 1241.7], bioAuc);

// lettres des panneaux (au-dessus des graphes)
const letters = [['a', 14, 80, 30], ['b', 408, 73, 30], ['c', 833, 77, 32], ['d', 12, 540, 32], ['e', 408, 532, 32], ['f', 835, 540, 32], ['g', 12, 990, 38], ['h', 408, 992, 38], ['i', 826, 992, 36]];
letters.forEach(([t, x, base, size]) => addDiv('letter', x, base - 0.8465 * size, t, { fontSize: size + 'px' }));
</script>
</body>
</html>
